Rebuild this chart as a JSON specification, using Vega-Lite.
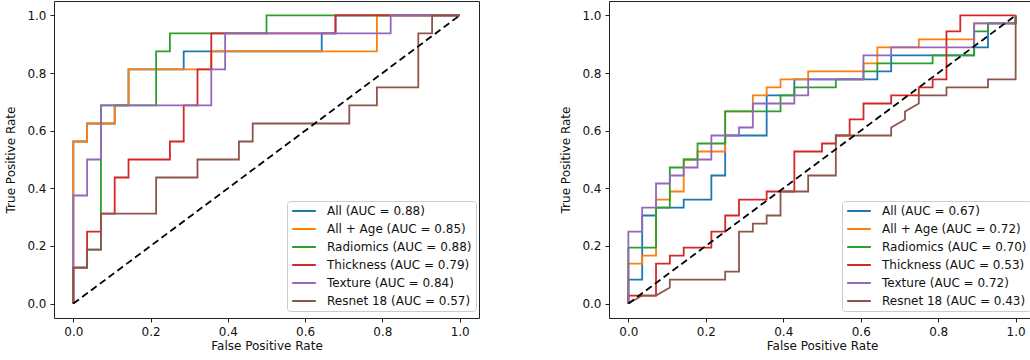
{
"$schema": "https://vega.github.io/schema/vega-lite/v6.json",
"background": "white",
"padding": {"left": 4, "top": 0, "right": 0, "bottom": 0},
"config": {
 "font": "DejaVu Sans",
 "view": {"stroke": "#222", "strokeWidth": 1},
 "axis": {"grid": false, "domain": false, "tickColor": "#222", "tickSize": 4, "tickWidth": 1, "labelFont": "DejaVu Sans", "labelFontSize": 12, "labelColor": "#111", "titleFont": "DejaVu Sans", "titleFontSize": 12, "titleFontWeight": "normal", "titleColor": "#111", "labelPadding": 4, "labelFlush": false},
 "axisX": {"titlePadding": 3},
 "axisY": {"titlePadding": 9},
 "legend": {"orient": "none", "legendX": 233, "legendY": 200, "title": null, "symbolType": "stroke", "symbolSize": 560, "symbolStrokeWidth": 1.8, "labelFont": "DejaVu Sans", "labelFontSize": 12, "labelColor": "#111", "labelOffset": 10, "padding": 4, "rowPadding": 6, "clipHeight": 12, "strokeColor": "#cccccc", "fillColor": "rgba(255,255,255,0.8)", "cornerRadius": 3, "labelLimit": 300}
},
"spacing": 79,
"datasets": {
 "D": [{"x": 0, "y": 0}, {"x": 1, "y": 1}],
 "L": [
 {"s":"All (AUC = 0.88)","x":0,"y":0},{"s":"All (AUC = 0.88)","x":0,"y":0.5625},{"s":"All (AUC = 0.88)","x":0.0357,"y":0.5625},{"s":"All (AUC = 0.88)","x":0.0357,"y":0.625},{"s":"All (AUC = 0.88)","x":0.1071,"y":0.625},{"s":"All (AUC = 0.88)","x":0.1071,"y":0.6875},{"s":"All (AUC = 0.88)","x":0.1429,"y":0.6875},{"s":"All (AUC = 0.88)","x":0.1429,"y":0.8125},{"s":"All (AUC = 0.88)","x":0.2857,"y":0.8125},{"s":"All (AUC = 0.88)","x":0.2857,"y":0.875},{"s":"All (AUC = 0.88)","x":0.6429,"y":0.875},{"s":"All (AUC = 0.88)","x":0.6429,"y":0.9375},{"s":"All (AUC = 0.88)","x":0.6786,"y":0.9375},{"s":"All (AUC = 0.88)","x":0.6786,"y":1},{"s":"All (AUC = 0.88)","x":1,"y":1},
 {"s":"All + Age (AUC = 0.85)","x":0,"y":0},{"s":"All + Age (AUC = 0.85)","x":0,"y":0.5625},{"s":"All + Age (AUC = 0.85)","x":0.0357,"y":0.5625},{"s":"All + Age (AUC = 0.85)","x":0.0357,"y":0.625},{"s":"All + Age (AUC = 0.85)","x":0.1071,"y":0.625},{"s":"All + Age (AUC = 0.85)","x":0.1071,"y":0.6875},{"s":"All + Age (AUC = 0.85)","x":0.1429,"y":0.6875},{"s":"All + Age (AUC = 0.85)","x":0.1429,"y":0.8125},{"s":"All + Age (AUC = 0.85)","x":0.3571,"y":0.8125},{"s":"All + Age (AUC = 0.85)","x":0.3571,"y":0.875},{"s":"All + Age (AUC = 0.85)","x":0.7857,"y":0.875},{"s":"All + Age (AUC = 0.85)","x":0.7857,"y":1},{"s":"All + Age (AUC = 0.85)","x":1,"y":1},
 {"s":"Radiomics (AUC = 0.88)","x":0,"y":0},{"s":"Radiomics (AUC = 0.88)","x":0,"y":0.125},{"s":"Radiomics (AUC = 0.88)","x":0.0357,"y":0.125},{"s":"Radiomics (AUC = 0.88)","x":0.0357,"y":0.1875},{"s":"Radiomics (AUC = 0.88)","x":0.0714,"y":0.1875},{"s":"Radiomics (AUC = 0.88)","x":0.0714,"y":0.6875},{"s":"Radiomics (AUC = 0.88)","x":0.2143,"y":0.6875},{"s":"Radiomics (AUC = 0.88)","x":0.2143,"y":0.875},{"s":"Radiomics (AUC = 0.88)","x":0.25,"y":0.875},{"s":"Radiomics (AUC = 0.88)","x":0.25,"y":0.9375},{"s":"Radiomics (AUC = 0.88)","x":0.5,"y":0.9375},{"s":"Radiomics (AUC = 0.88)","x":0.5,"y":1},{"s":"Radiomics (AUC = 0.88)","x":1,"y":1},
 {"s":"Thickness (AUC = 0.79)","x":0,"y":0},{"s":"Thickness (AUC = 0.79)","x":0,"y":0.125},{"s":"Thickness (AUC = 0.79)","x":0.0357,"y":0.125},{"s":"Thickness (AUC = 0.79)","x":0.0357,"y":0.25},{"s":"Thickness (AUC = 0.79)","x":0.0714,"y":0.25},{"s":"Thickness (AUC = 0.79)","x":0.0714,"y":0.3125},{"s":"Thickness (AUC = 0.79)","x":0.1071,"y":0.3125},{"s":"Thickness (AUC = 0.79)","x":0.1071,"y":0.4375},{"s":"Thickness (AUC = 0.79)","x":0.1429,"y":0.4375},{"s":"Thickness (AUC = 0.79)","x":0.1429,"y":0.5},{"s":"Thickness (AUC = 0.79)","x":0.25,"y":0.5},{"s":"Thickness (AUC = 0.79)","x":0.25,"y":0.5625},{"s":"Thickness (AUC = 0.79)","x":0.2857,"y":0.5625},{"s":"Thickness (AUC = 0.79)","x":0.2857,"y":0.6875},{"s":"Thickness (AUC = 0.79)","x":0.3214,"y":0.6875},{"s":"Thickness (AUC = 0.79)","x":0.3214,"y":0.8125},{"s":"Thickness (AUC = 0.79)","x":0.3571,"y":0.8125},{"s":"Thickness (AUC = 0.79)","x":0.3571,"y":0.9375},{"s":"Thickness (AUC = 0.79)","x":0.6786,"y":0.9375},{"s":"Thickness (AUC = 0.79)","x":0.6786,"y":1},{"s":"Thickness (AUC = 0.79)","x":1,"y":1},
 {"s":"Texture (AUC = 0.84)","x":0,"y":0},{"s":"Texture (AUC = 0.84)","x":0,"y":0.375},{"s":"Texture (AUC = 0.84)","x":0.0357,"y":0.375},{"s":"Texture (AUC = 0.84)","x":0.0357,"y":0.5},{"s":"Texture (AUC = 0.84)","x":0.0714,"y":0.5},{"s":"Texture (AUC = 0.84)","x":0.0714,"y":0.6875},{"s":"Texture (AUC = 0.84)","x":0.3571,"y":0.6875},{"s":"Texture (AUC = 0.84)","x":0.3571,"y":0.8125},{"s":"Texture (AUC = 0.84)","x":0.3929,"y":0.8125},{"s":"Texture (AUC = 0.84)","x":0.3929,"y":0.9375},{"s":"Texture (AUC = 0.84)","x":0.8214,"y":0.9375},{"s":"Texture (AUC = 0.84)","x":0.8214,"y":1},{"s":"Texture (AUC = 0.84)","x":1,"y":1},
 {"s":"Resnet 18 (AUC = 0.57)","x":0,"y":0},{"s":"Resnet 18 (AUC = 0.57)","x":0,"y":0.125},{"s":"Resnet 18 (AUC = 0.57)","x":0.0357,"y":0.125},{"s":"Resnet 18 (AUC = 0.57)","x":0.0357,"y":0.1875},{"s":"Resnet 18 (AUC = 0.57)","x":0.0714,"y":0.1875},{"s":"Resnet 18 (AUC = 0.57)","x":0.0714,"y":0.3125},{"s":"Resnet 18 (AUC = 0.57)","x":0.2143,"y":0.3125},{"s":"Resnet 18 (AUC = 0.57)","x":0.2143,"y":0.4375},{"s":"Resnet 18 (AUC = 0.57)","x":0.3214,"y":0.4375},{"s":"Resnet 18 (AUC = 0.57)","x":0.3214,"y":0.5},{"s":"Resnet 18 (AUC = 0.57)","x":0.4286,"y":0.5},{"s":"Resnet 18 (AUC = 0.57)","x":0.4286,"y":0.5625},{"s":"Resnet 18 (AUC = 0.57)","x":0.4643,"y":0.5625},{"s":"Resnet 18 (AUC = 0.57)","x":0.4643,"y":0.625},{"s":"Resnet 18 (AUC = 0.57)","x":0.7143,"y":0.625},{"s":"Resnet 18 (AUC = 0.57)","x":0.7143,"y":0.6875},{"s":"Resnet 18 (AUC = 0.57)","x":0.7857,"y":0.6875},{"s":"Resnet 18 (AUC = 0.57)","x":0.7857,"y":0.75},{"s":"Resnet 18 (AUC = 0.57)","x":0.8929,"y":0.75},{"s":"Resnet 18 (AUC = 0.57)","x":0.8929,"y":0.9375},{"s":"Resnet 18 (AUC = 0.57)","x":0.9286,"y":0.9375},{"s":"Resnet 18 (AUC = 0.57)","x":0.9286,"y":1},{"s":"Resnet 18 (AUC = 0.57)","x":1,"y":1}
 ],
 "R": [
 {"s":"All (AUC = 0.67)","x":0,"y":0},{"s":"All (AUC = 0.67)","x":0,"y":0.0833},{"s":"All (AUC = 0.67)","x":0.0357,"y":0.0833},{"s":"All (AUC = 0.67)","x":0.0357,"y":0.3056},{"s":"All (AUC = 0.67)","x":0.0714,"y":0.3056},{"s":"All (AUC = 0.67)","x":0.0714,"y":0.3333},{"s":"All (AUC = 0.67)","x":0.1429,"y":0.3333},{"s":"All (AUC = 0.67)","x":0.1429,"y":0.3611},{"s":"All (AUC = 0.67)","x":0.2143,"y":0.3611},{"s":"All (AUC = 0.67)","x":0.2143,"y":0.4444},{"s":"All (AUC = 0.67)","x":0.25,"y":0.4444},{"s":"All (AUC = 0.67)","x":0.25,"y":0.5833},{"s":"All (AUC = 0.67)","x":0.3571,"y":0.5833},{"s":"All (AUC = 0.67)","x":0.3571,"y":0.7222},{"s":"All (AUC = 0.67)","x":0.4286,"y":0.7222},{"s":"All (AUC = 0.67)","x":0.4286,"y":0.7778},{"s":"All (AUC = 0.67)","x":0.6429,"y":0.7778},{"s":"All (AUC = 0.67)","x":0.6429,"y":0.8056},{"s":"All (AUC = 0.67)","x":0.6786,"y":0.8056},{"s":"All (AUC = 0.67)","x":0.6786,"y":0.8611},{"s":"All (AUC = 0.67)","x":0.8929,"y":0.8611},{"s":"All (AUC = 0.67)","x":0.8929,"y":0.8889},{"s":"All (AUC = 0.67)","x":0.9286,"y":0.8889},{"s":"All (AUC = 0.67)","x":0.9286,"y":0.9722},{"s":"All (AUC = 0.67)","x":1,"y":0.9722},{"s":"All (AUC = 0.67)","x":1,"y":1},
 {"s":"All + Age (AUC = 0.72)","x":0,"y":0},{"s":"All + Age (AUC = 0.72)","x":0,"y":0.1389},{"s":"All + Age (AUC = 0.72)","x":0.0357,"y":0.1389},{"s":"All + Age (AUC = 0.72)","x":0.0357,"y":0.1667},{"s":"All + Age (AUC = 0.72)","x":0.0714,"y":0.1667},{"s":"All + Age (AUC = 0.72)","x":0.0714,"y":0.3611},{"s":"All + Age (AUC = 0.72)","x":0.1071,"y":0.3611},{"s":"All + Age (AUC = 0.72)","x":0.1071,"y":0.3889},{"s":"All + Age (AUC = 0.72)","x":0.1429,"y":0.3889},{"s":"All + Age (AUC = 0.72)","x":0.1429,"y":0.5},{"s":"All + Age (AUC = 0.72)","x":0.1786,"y":0.5},{"s":"All + Age (AUC = 0.72)","x":0.1786,"y":0.5278},{"s":"All + Age (AUC = 0.72)","x":0.25,"y":0.5278},{"s":"All + Age (AUC = 0.72)","x":0.25,"y":0.6667},{"s":"All + Age (AUC = 0.72)","x":0.3214,"y":0.6667},{"s":"All + Age (AUC = 0.72)","x":0.3214,"y":0.7222},{"s":"All + Age (AUC = 0.72)","x":0.3571,"y":0.7222},{"s":"All + Age (AUC = 0.72)","x":0.3571,"y":0.75},{"s":"All + Age (AUC = 0.72)","x":0.3929,"y":0.75},{"s":"All + Age (AUC = 0.72)","x":0.3929,"y":0.7778},{"s":"All + Age (AUC = 0.72)","x":0.4643,"y":0.7778},{"s":"All + Age (AUC = 0.72)","x":0.4643,"y":0.8056},{"s":"All + Age (AUC = 0.72)","x":0.6071,"y":0.8056},{"s":"All + Age (AUC = 0.72)","x":0.6071,"y":0.8333},{"s":"All + Age (AUC = 0.72)","x":0.6429,"y":0.8333},{"s":"All + Age (AUC = 0.72)","x":0.6429,"y":0.8889},{"s":"All + Age (AUC = 0.72)","x":0.75,"y":0.8889},{"s":"All + Age (AUC = 0.72)","x":0.75,"y":0.9167},{"s":"All + Age (AUC = 0.72)","x":0.8929,"y":0.9167},{"s":"All + Age (AUC = 0.72)","x":0.8929,"y":0.9722},{"s":"All + Age (AUC = 0.72)","x":1,"y":0.9722},{"s":"All + Age (AUC = 0.72)","x":1,"y":1},
 {"s":"Radiomics (AUC = 0.70)","x":0,"y":0},{"s":"Radiomics (AUC = 0.70)","x":0,"y":0.1944},{"s":"Radiomics (AUC = 0.70)","x":0.0714,"y":0.1944},{"s":"Radiomics (AUC = 0.70)","x":0.0714,"y":0.3333},{"s":"Radiomics (AUC = 0.70)","x":0.1071,"y":0.3333},{"s":"Radiomics (AUC = 0.70)","x":0.1071,"y":0.4722},{"s":"Radiomics (AUC = 0.70)","x":0.1429,"y":0.4722},{"s":"Radiomics (AUC = 0.70)","x":0.1429,"y":0.5},{"s":"Radiomics (AUC = 0.70)","x":0.1786,"y":0.5},{"s":"Radiomics (AUC = 0.70)","x":0.1786,"y":0.5556},{"s":"Radiomics (AUC = 0.70)","x":0.25,"y":0.5556},{"s":"Radiomics (AUC = 0.70)","x":0.25,"y":0.6667},{"s":"Radiomics (AUC = 0.70)","x":0.3929,"y":0.6667},{"s":"Radiomics (AUC = 0.70)","x":0.3929,"y":0.7222},{"s":"Radiomics (AUC = 0.70)","x":0.4286,"y":0.7222},{"s":"Radiomics (AUC = 0.70)","x":0.4286,"y":0.75},{"s":"Radiomics (AUC = 0.70)","x":0.5357,"y":0.75},{"s":"Radiomics (AUC = 0.70)","x":0.5357,"y":0.7778},{"s":"Radiomics (AUC = 0.70)","x":0.6071,"y":0.7778},{"s":"Radiomics (AUC = 0.70)","x":0.6071,"y":0.8056},{"s":"Radiomics (AUC = 0.70)","x":0.6429,"y":0.8056},{"s":"Radiomics (AUC = 0.70)","x":0.6429,"y":0.8333},{"s":"Radiomics (AUC = 0.70)","x":0.7857,"y":0.8333},{"s":"Radiomics (AUC = 0.70)","x":0.7857,"y":0.8611},{"s":"Radiomics (AUC = 0.70)","x":0.8929,"y":0.8611},{"s":"Radiomics (AUC = 0.70)","x":0.8929,"y":0.9444},{"s":"Radiomics (AUC = 0.70)","x":0.9286,"y":0.9444},{"s":"Radiomics (AUC = 0.70)","x":0.9286,"y":0.9722},{"s":"Radiomics (AUC = 0.70)","x":1,"y":0.9722},{"s":"Radiomics (AUC = 0.70)","x":1,"y":1},
 {"s":"Thickness (AUC = 0.53)","x":0,"y":0},{"s":"Thickness (AUC = 0.53)","x":0,"y":0.0278},{"s":"Thickness (AUC = 0.53)","x":0.0714,"y":0.0278},{"s":"Thickness (AUC = 0.53)","x":0.0714,"y":0.1389},{"s":"Thickness (AUC = 0.53)","x":0.1071,"y":0.1389},{"s":"Thickness (AUC = 0.53)","x":0.1071,"y":0.1667},{"s":"Thickness (AUC = 0.53)","x":0.1429,"y":0.1667},{"s":"Thickness (AUC = 0.53)","x":0.1429,"y":0.1944},{"s":"Thickness (AUC = 0.53)","x":0.2143,"y":0.1944},{"s":"Thickness (AUC = 0.53)","x":0.2143,"y":0.25},{"s":"Thickness (AUC = 0.53)","x":0.25,"y":0.25},{"s":"Thickness (AUC = 0.53)","x":0.25,"y":0.3056},{"s":"Thickness (AUC = 0.53)","x":0.2857,"y":0.3056},{"s":"Thickness (AUC = 0.53)","x":0.2857,"y":0.3611},{"s":"Thickness (AUC = 0.53)","x":0.3571,"y":0.3611},{"s":"Thickness (AUC = 0.53)","x":0.3571,"y":0.3889},{"s":"Thickness (AUC = 0.53)","x":0.4286,"y":0.3889},{"s":"Thickness (AUC = 0.53)","x":0.4286,"y":0.5278},{"s":"Thickness (AUC = 0.53)","x":0.5,"y":0.5278},{"s":"Thickness (AUC = 0.53)","x":0.5,"y":0.5556},{"s":"Thickness (AUC = 0.53)","x":0.5357,"y":0.5556},{"s":"Thickness (AUC = 0.53)","x":0.5357,"y":0.5833},{"s":"Thickness (AUC = 0.53)","x":0.5714,"y":0.5833},{"s":"Thickness (AUC = 0.53)","x":0.5714,"y":0.6389},{"s":"Thickness (AUC = 0.53)","x":0.6071,"y":0.6389},{"s":"Thickness (AUC = 0.53)","x":0.6071,"y":0.6944},{"s":"Thickness (AUC = 0.53)","x":0.6786,"y":0.6944},{"s":"Thickness (AUC = 0.53)","x":0.6786,"y":0.7222},{"s":"Thickness (AUC = 0.53)","x":0.75,"y":0.7222},{"s":"Thickness (AUC = 0.53)","x":0.75,"y":0.75},{"s":"Thickness (AUC = 0.53)","x":0.7857,"y":0.75},{"s":"Thickness (AUC = 0.53)","x":0.7857,"y":0.7778},{"s":"Thickness (AUC = 0.53)","x":0.8214,"y":0.7778},{"s":"Thickness (AUC = 0.53)","x":0.8214,"y":0.9444},{"s":"Thickness (AUC = 0.53)","x":0.8571,"y":0.9444},{"s":"Thickness (AUC = 0.53)","x":0.8571,"y":1},{"s":"Thickness (AUC = 0.53)","x":1,"y":1},
 {"s":"Texture (AUC = 0.72)","x":0,"y":0},{"s":"Texture (AUC = 0.72)","x":0,"y":0.25},{"s":"Texture (AUC = 0.72)","x":0.0357,"y":0.25},{"s":"Texture (AUC = 0.72)","x":0.0357,"y":0.3333},{"s":"Texture (AUC = 0.72)","x":0.0714,"y":0.3333},{"s":"Texture (AUC = 0.72)","x":0.0714,"y":0.4167},{"s":"Texture (AUC = 0.72)","x":0.1071,"y":0.4167},{"s":"Texture (AUC = 0.72)","x":0.1071,"y":0.4444},{"s":"Texture (AUC = 0.72)","x":0.1429,"y":0.4444},{"s":"Texture (AUC = 0.72)","x":0.1429,"y":0.4722},{"s":"Texture (AUC = 0.72)","x":0.1786,"y":0.4722},{"s":"Texture (AUC = 0.72)","x":0.1786,"y":0.5},{"s":"Texture (AUC = 0.72)","x":0.2143,"y":0.5},{"s":"Texture (AUC = 0.72)","x":0.2143,"y":0.5833},{"s":"Texture (AUC = 0.72)","x":0.2857,"y":0.5833},{"s":"Texture (AUC = 0.72)","x":0.2857,"y":0.6111},{"s":"Texture (AUC = 0.72)","x":0.3214,"y":0.6111},{"s":"Texture (AUC = 0.72)","x":0.3214,"y":0.6944},{"s":"Texture (AUC = 0.72)","x":0.4286,"y":0.6944},{"s":"Texture (AUC = 0.72)","x":0.4286,"y":0.7222},{"s":"Texture (AUC = 0.72)","x":0.4643,"y":0.7222},{"s":"Texture (AUC = 0.72)","x":0.4643,"y":0.7778},{"s":"Texture (AUC = 0.72)","x":0.6071,"y":0.7778},{"s":"Texture (AUC = 0.72)","x":0.6071,"y":0.8611},{"s":"Texture (AUC = 0.72)","x":0.6786,"y":0.8611},{"s":"Texture (AUC = 0.72)","x":0.6786,"y":0.8889},{"s":"Texture (AUC = 0.72)","x":0.8929,"y":0.8889},{"s":"Texture (AUC = 0.72)","x":0.8929,"y":0.9722},{"s":"Texture (AUC = 0.72)","x":1,"y":0.9722},{"s":"Texture (AUC = 0.72)","x":1,"y":1},
 {"s":"Resnet 18 (AUC = 0.43)","x":0,"y":0},{"s":"Resnet 18 (AUC = 0.43)","x":0.0357,"y":0.0278},{"s":"Resnet 18 (AUC = 0.43)","x":0.0714,"y":0.0278},{"s":"Resnet 18 (AUC = 0.43)","x":0.1071,"y":0.0556},{"s":"Resnet 18 (AUC = 0.43)","x":0.1071,"y":0.0833},{"s":"Resnet 18 (AUC = 0.43)","x":0.25,"y":0.0833},{"s":"Resnet 18 (AUC = 0.43)","x":0.25,"y":0.1111},{"s":"Resnet 18 (AUC = 0.43)","x":0.2857,"y":0.1111},{"s":"Resnet 18 (AUC = 0.43)","x":0.2857,"y":0.25},{"s":"Resnet 18 (AUC = 0.43)","x":0.3214,"y":0.25},{"s":"Resnet 18 (AUC = 0.43)","x":0.3214,"y":0.2778},{"s":"Resnet 18 (AUC = 0.43)","x":0.3571,"y":0.2778},{"s":"Resnet 18 (AUC = 0.43)","x":0.3571,"y":0.3056},{"s":"Resnet 18 (AUC = 0.43)","x":0.3929,"y":0.3056},{"s":"Resnet 18 (AUC = 0.43)","x":0.3929,"y":0.3889},{"s":"Resnet 18 (AUC = 0.43)","x":0.4643,"y":0.3889},{"s":"Resnet 18 (AUC = 0.43)","x":0.4643,"y":0.4444},{"s":"Resnet 18 (AUC = 0.43)","x":0.5357,"y":0.4444},{"s":"Resnet 18 (AUC = 0.43)","x":0.5357,"y":0.5833},{"s":"Resnet 18 (AUC = 0.43)","x":0.6786,"y":0.5833},{"s":"Resnet 18 (AUC = 0.43)","x":0.6786,"y":0.6111},{"s":"Resnet 18 (AUC = 0.43)","x":0.7143,"y":0.6389},{"s":"Resnet 18 (AUC = 0.43)","x":0.7143,"y":0.6667},{"s":"Resnet 18 (AUC = 0.43)","x":0.75,"y":0.6944},{"s":"Resnet 18 (AUC = 0.43)","x":0.75,"y":0.7222},{"s":"Resnet 18 (AUC = 0.43)","x":0.8214,"y":0.7222},{"s":"Resnet 18 (AUC = 0.43)","x":0.8214,"y":0.75},{"s":"Resnet 18 (AUC = 0.43)","x":0.9286,"y":0.75},{"s":"Resnet 18 (AUC = 0.43)","x":0.9286,"y":0.7778},{"s":"Resnet 18 (AUC = 0.43)","x":1,"y":0.7778},{"s":"Resnet 18 (AUC = 0.43)","x":1,"y":1}
 ]
},
"hconcat": [
 {
  "width": 425, "height": 317,
  "layer": [
   {"data": {"name": "L"},
    "mark": {"type": "line", "strokeWidth": 1.8},
    "encoding": {
     "x": {"field": "x", "type": "quantitative", "scale": {"domain": [-0.05, 1.05], "nice": false, "zero": false}, "axis": {"values": [0, 0.2, 0.4, 0.6, 0.8, 1], "format": ".1f", "title": "False Positive Rate"}},
     "y": {"field": "y", "type": "quantitative", "scale": {"domain": [-0.05, 1.05], "nice": false, "zero": false}, "axis": {"values": [0, 0.2, 0.4, 0.6, 0.8, 1], "format": ".1f", "title": "True Positive Rate"}},
     "color": {"field": "s", "type": "nominal", "scale": {"domain": ["All (AUC = 0.88)", "All + Age (AUC = 0.85)", "Radiomics (AUC = 0.88)", "Thickness (AUC = 0.79)", "Texture (AUC = 0.84)", "Resnet 18 (AUC = 0.57)"], "range": ["#1f77b4", "#ff7f0e", "#2ca02c", "#d62728", "#9467bd", "#8c564b"]}}
    }},
   {"data": {"name": "D"},
    "mark": {"type": "line", "color": "black", "strokeDash": [7, 4], "strokeWidth": 1.8},
    "encoding": {"x": {"field": "x", "type": "quantitative"}, "y": {"field": "y", "type": "quantitative"}}}
  ]
 },
 {
  "width": 426, "height": 317,
  "layer": [
   {"data": {"name": "R"},
    "mark": {"type": "line", "strokeWidth": 1.8},
    "encoding": {
     "x": {"field": "x", "type": "quantitative", "scale": {"domain": [-0.05, 1.05], "nice": false, "zero": false}, "axis": {"values": [0, 0.2, 0.4, 0.6, 0.8, 1], "format": ".1f", "title": "False Positive Rate"}},
     "y": {"field": "y", "type": "quantitative", "scale": {"domain": [-0.05, 1.05], "nice": false, "zero": false}, "axis": {"values": [0, 0.2, 0.4, 0.6, 0.8, 1], "format": ".1f", "title": "True Positive Rate"}},
     "color": {"field": "s", "type": "nominal", "scale": {"domain": ["All (AUC = 0.67)", "All + Age (AUC = 0.72)", "Radiomics (AUC = 0.70)", "Thickness (AUC = 0.53)", "Texture (AUC = 0.72)", "Resnet 18 (AUC = 0.43)"], "range": ["#1f77b4", "#ff7f0e", "#2ca02c", "#d62728", "#9467bd", "#8c564b"]}}
    }},
   {"data": {"name": "D"},
    "mark": {"type": "line", "color": "black", "strokeDash": [7, 4], "strokeWidth": 1.8},
    "encoding": {"x": {"field": "x", "type": "quantitative"}, "y": {"field": "y", "type": "quantitative"}}}
  ]
 }
],
"resolve": {"scale": {"color": "independent"}, "legend": {"color": "independent"}}
}
